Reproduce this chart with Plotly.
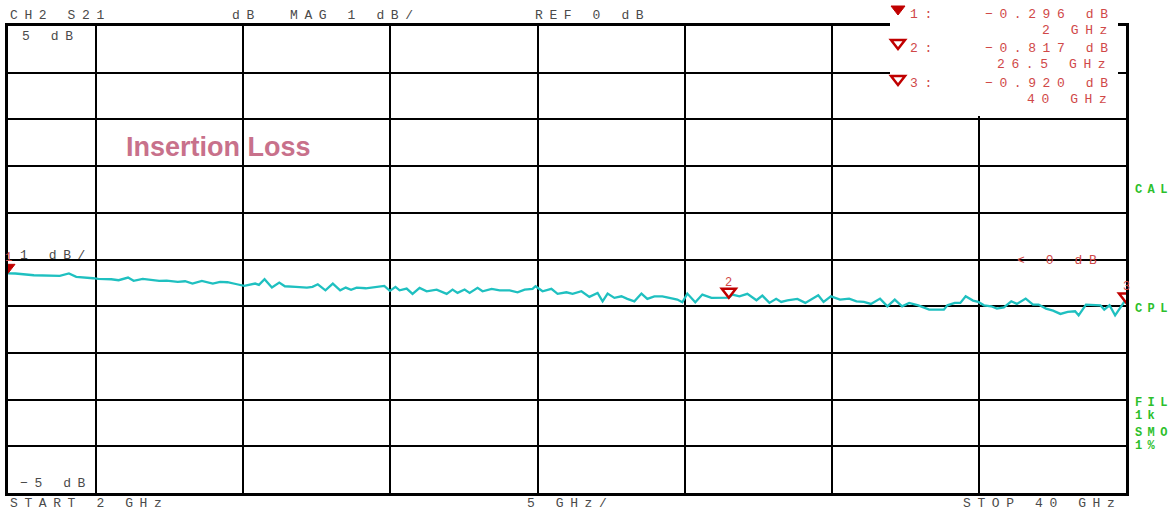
import plotly.graph_objects as go

# ---------------- data ----------------
freq_ghz = [
    2.00, 2.25, 2.88, 3.76, 4.07, 4.32, 4.89, 5.07, 5.51, 5.76, 6.08, 6.27, 6.58, 6.89,
    7.14, 7.39, 7.77, 8.02, 8.27, 8.59, 8.96, 9.21, 9.46, 9.78, 10.03, 10.40, 10.53,
    10.72, 10.97, 11.22, 11.41, 11.78, 12.16, 12.35, 12.53, 12.79, 13.04, 13.29, 13.48,
    13.66, 13.85, 14.16, 14.42, 14.79, 14.98, 15.17,
    15.31, 15.55, 15.75, 15.99, 16.23, 16.57, 16.91, 17.11, 17.28, 17.52, 17.69, 17.96,
    18.13, 18.44, 18.71, 19.05, 19.32, 19.56, 19.83, 19.93, 20.17, 20.47, 20.68, 20.98,
    21.19, 21.49, 21.76, 22.04, 22.21, 22.38, 22.61, 22.85, 23.05, 23.29, 23.53, 23.73,
    23.97, 24.24, 24.48, 24.75, 24.92, 25.09, 25.36, 25.60, 25.91, 26.18, 26.50, 26.62,
    26.86, 27.13, 27.44, 27.64, 27.88, 28.11, 28.28, 28.49, 28.83,
    29.10, 29.29, 29.54, 29.72, 29.97, 30.28, 30.59, 30.84, 31.09, 31.33, 31.64, 31.89,
    32.14, 32.39, 32.63, 32.94, 33.31, 33.81, 33.93, 34.18, 34.37, 34.55, 34.80, 34.98,
    35.17, 35.42, 35.61, 35.85, 36.10, 36.29, 36.59, 36.84, 37.03, 37.28, 37.52, 37.77,
    38.02, 38.27, 38.39, 38.64, 38.89, 39.13, 39.26, 39.44, 39.63, 39.81, 39.94, 40.00,
]
s21_db = [
    -0.296, -0.300, -0.337, -0.350, -0.300, -0.371, -0.401, -0.414, -0.423, -0.444, -0.386,
    -0.457, -0.414, -0.444, -0.457, -0.451, -0.479, -0.466, -0.515, -0.457, -0.515, -0.479,
    -0.487, -0.530, -0.564, -0.515, -0.543, -0.423, -0.601, -0.494, -0.573, -0.586, -0.601,
    -0.586, -0.530, -0.659, -0.515, -0.659, -0.601, -0.650, -0.601, -0.616, -0.601, -0.564,
    -0.672, -0.586,
    -0.659, -0.622, -0.736, -0.607, -0.680, -0.644, -0.736, -0.644, -0.715, -0.644, -0.715,
    -0.607, -0.680, -0.629, -0.659, -0.659, -0.702, -0.644, -0.629, -0.573, -0.680, -0.629,
    -0.736, -0.702, -0.736, -0.680, -0.800, -0.715, -0.895, -0.730, -0.822, -0.788, -0.843,
    -0.895, -0.730, -0.843, -0.788, -0.788, -0.822, -0.858, -0.916, -0.730, -0.916, -0.751,
    -0.822, -0.822, -0.817, -0.751, -0.788, -0.736, -0.873, -0.773, -0.929, -0.843, -0.908,
    -0.873, -0.843,
    -0.929, -0.858, -0.766, -0.908, -0.788, -0.858, -0.837, -0.895, -0.908, -0.951, -0.837,
    -1.002, -0.858, -1.002, -0.929, -0.981, -1.073, -1.073, -0.981, -0.929, -0.929, -0.788,
    -0.880, -0.908, -0.981, -1.002, -1.052, -1.024, -0.895, -0.951, -0.837, -0.966, -0.966,
    -1.052, -1.094, -1.165, -1.122, -1.109, -1.195, -0.966, -0.966, -0.981, -1.073, -0.981,
    -1.195, -1.024, -0.908, -0.920,
]

marker_ids = ["1", "2", "3"]
marker_freq = [2.0, 26.5, 40.0]
marker_db = [-0.296, -0.817, -0.920]
marker_value_text = ["\u22120.296 dB", "\u22120.817 dB", "\u22120.920 dB"]
marker_freq_text = ["2 GHz", "26.5 GHz", "40 GHz"]

header_texts = ["CH2 S21", "dB", "MAG 1 dB/", "REF 0 dB"]
scale_texts = ["5 dB", "1 dB/", "\u22125 dB"]
footer_texts = ["START 2 GHz", "5 GHz/", "STOP 40 GHz"]
status_texts = ["CAL", "CPL", "FIL", "1k", "SMO", "1%"]
title_text = "Insertion Loss"
ref_text = "&lt; 0 dB"

# ---------------- layout geometry ----------------
W, H = 1174, 511
ML, MR, MT, MB = 8, 48, 26, 18
PW, PH = W - ML - MR, H - MT - MB


def px(x):
    return (x - ML) / PW


def py(y):
    return (H - MB - y) / PH


GRAY = "#4a4a4a"
RED_TXT = "#d04848"
RED_MK = "#c00000"
GREEN = "#2cbf2c"
CYAN = "#1fc0c0"
MONO = "Liberation Mono"

annotations = []


def label(s, x, y, color, size=13, spacing=6.6, bold=False, family=MONO):
    t = f"<b>{s}</b>" if bold else s
    if spacing:
        t = f'<span style="letter-spacing:{spacing}px">{t}</span>'
    annotations.append(dict(
        text=t, x=px(x), y=py(y), xref="paper", yref="paper",
        xanchor="left", yanchor="middle", showarrow=False, align="left",
        font=dict(family=family, size=size, color=color), borderpad=0,
    ))


# header
for s, x in zip(header_texts, [9, 231, 289, 534]):
    label(s, x, 15, GRAY)
# scale labels inside grid
for s, x, y in zip(scale_texts, [21, 19, 19], [36, 255, 483]):
    label(s, x, y, GRAY)
# footer
for s, x in zip(footer_texts, [9, 526, 962]):
    label(s, x, 503, GRAY)
# marker readouts
row_y = [14, 48, 83]
freq_x = [1041, 996, 1026]
for i in range(3):
    label(marker_ids[i] + ":", 909, row_y[i], RED_TXT)
    label(marker_value_text[i], 984, row_y[i], RED_TXT)
    label(marker_freq_text[i], freq_x[i], row_y[i] + 17, RED_TXT)
# reference level indicator
label(ref_text, 1016, 260, RED_TXT)
# status annotations (green)
for s, y in zip(status_texts, [190, 309, 403, 416, 433, 446]):
    label(s, 1134, y, GREEN, size=12, spacing=5.4, bold=True)
# title
label(title_text, 125, 147, "#c8718b", size=27, spacing=0, bold=True, family="Liberation Sans")

# marker number labels on the trace
for mid, f, v in zip(marker_ids, marker_freq, marker_db):
    annotations.append(dict(
        text=mid, x=f, y=v, xref="x", yref="y", showarrow=False,
        yshift=15, xanchor="center", yanchor="middle",
        font=dict(family=MONO, size=12, color=RED_TXT),
    ))

shapes = []
# white readout box that hides the grid in the top right
shapes.append(dict(type="rect", xref="paper", yref="paper",
                   x0=px(890), x1=px(1118), y0=py(116), y1=py(0),
                   fillcolor="white", line=dict(width=0), layer="above"))

tri = "M0,0 L-7,9 L7,9 Z"
# triangles on the trace
for i, (f, v) in enumerate(zip(marker_freq, marker_db)):
    filled = i == 0
    shapes.append(dict(type="path", xref="x", yref="y", xsizemode="pixel", ysizemode="pixel",
                       xanchor=f, yanchor=v, path=tri, layer="above",
                       fillcolor=RED_MK if filled else "white",
                       line=dict(color=RED_MK, width=1 if filled else 2.5)))
# triangles in the readout box
for i, yy in enumerate([15, 49, 85]):
    filled = i == 0
    shapes.append(dict(type="path", xref="paper", yref="paper", xsizemode="pixel", ysizemode="pixel",
                       xanchor=px(898), yanchor=py(yy), path=tri, layer="above",
                       fillcolor=RED_MK if filled else "white",
                       line=dict(color=RED_MK, width=1 if filled else 2.5)))

fig = go.Figure()
fig.add_trace(go.Scatter(x=freq_ghz, y=s21_db, mode="lines",
                         line=dict(color=CYAN, width=2.3), hoverinfo="skip"))

axis_common = dict(showgrid=True, gridcolor="black", gridwidth=2, zeroline=False,
                   showline=True, linecolor="black", linewidth=3, mirror=True,
                   showticklabels=False, ticks="", fixedrange=True)
fig.update_xaxes(range=[2, 40], tick0=0, dtick=5, **axis_common)
fig.update_yaxes(range=[-5, 5], tick0=0, dtick=1, **axis_common)

fig.update_layout(
    width=W, height=H,
    margin=dict(l=ML, r=MR, t=MT, b=MB, pad=0),
    paper_bgcolor="white", plot_bgcolor="white",
    showlegend=False,
    annotations=annotations,
    shapes=shapes,
)

fig.write_html("out.html", config={"displayModeBar": False},
               post_script="document.body.style.margin='0px';document.body.style.overflow='hidden';")
